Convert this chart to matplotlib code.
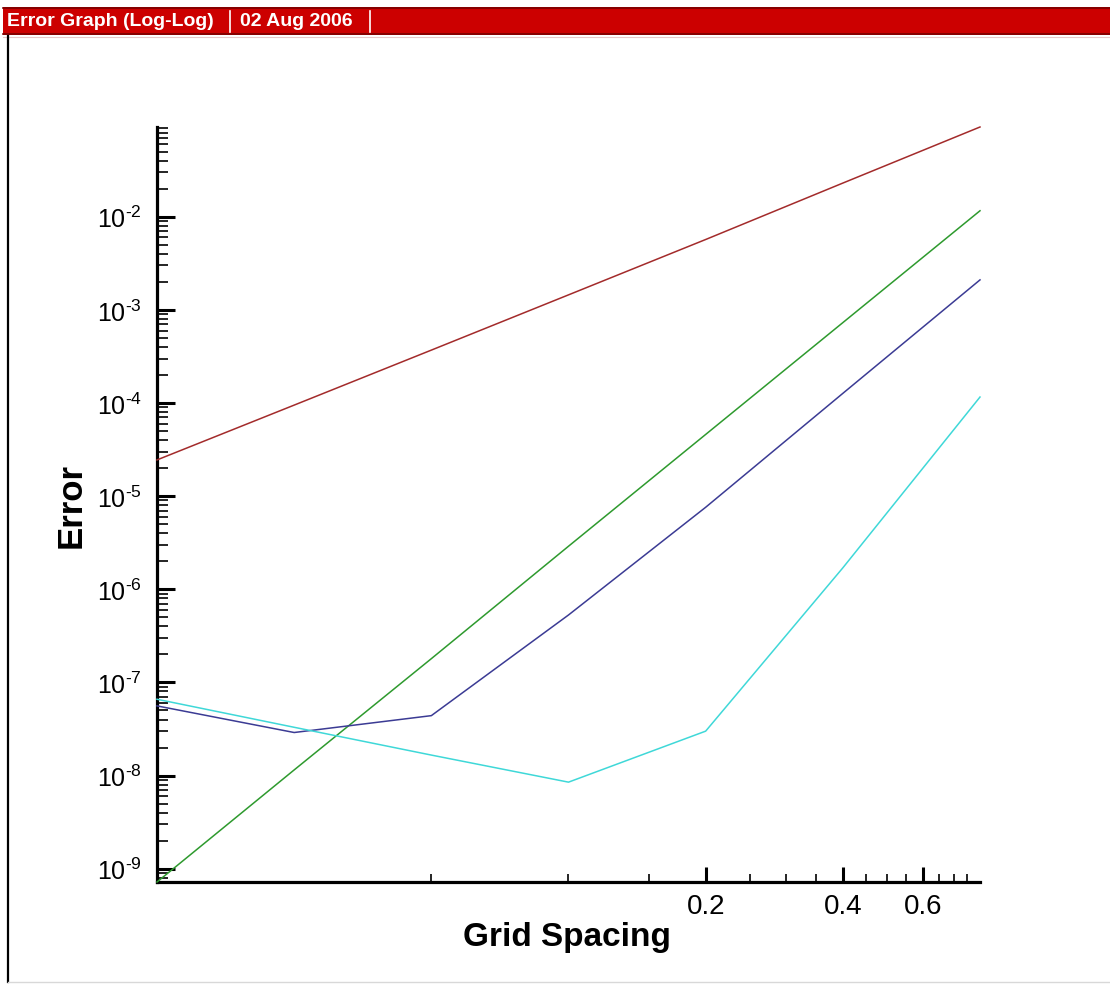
import matplotlib
matplotlib.use("Agg")
import matplotlib.pyplot as plt
from matplotlib.patches import Rectangle
from matplotlib.lines import Line2D
from matplotlib.ticker import FixedLocator, NullFormatter, LogLocator, FuncFormatter
import math

plt.rcParams['font.family'] = ['Liberation Sans', 'DejaVu Sans']
plt.rcParams['mathtext.fontset'] = 'custom'
plt.rcParams['mathtext.rm'] = 'Liberation Sans'
plt.rcParams['mathtext.it'] = 'Liberation Sans'
plt.rcParams['mathtext.bf'] = 'Liberation Sans:bold'

# Grid spacings of the refinement study
grid_spacing = [0.0125, 0.025, 0.05, 0.1, 0.2, 0.4, 0.8]

# Error for each scheme
error_red = [2.45e-5, 9.5e-5, 3.7e-4, 1.45e-3, 5.7e-3, 2.3e-2, 9.2e-2]
error_green = [7.2e-10, 1.15e-8, 1.8e-7, 2.9e-6, 4.6e-5, 7.3e-4, 1.16e-2]
error_blue = [5.6e-8, 2.9e-8, 4.4e-8, 5.3e-7, 7.6e-6, 1.27e-4, 2.1e-3]
error_cyan = [6.6e-8, 3.3e-8, 1.66e-8, 8.5e-9, 3.0e-8, 1.7e-6, 1.16e-4]

series_colors = ['#A32B2B', '#2E9A2E', '#3B3B94', '#3FD8D8']

x_major_ticks = [0.2, 0.4, 0.6]
x_major_labels = ['0.2', '0.4', '0.6']
x_minor_ticks = [0.05, 0.1, 0.15, 0.25, 0.3, 0.35, 0.45, 0.5, 0.55, 0.65, 0.7, 0.75]
y_major_ticks = [1e-9, 1e-8, 1e-7, 1e-6, 1e-5, 1e-4, 1e-3, 1e-2]

header_title = 'Error Graph (Log-Log)'
header_date = '02 Aug 2006'

W, H = 1110, 987
fig = plt.figure(figsize=(W / 100, H / 100), dpi=100)
fig.patch.set_facecolor('white')


def fx(px):
    return px / W


def fy(py):
    return 1 - py / H


# Header bar
fig.patches.append(Rectangle((fx(3), fy(36)), fx(W) - fx(3), fy(8) - fy(36),
                             transform=fig.transFigure, facecolor='#CC0000',
                             edgecolor='none', zorder=1))
fig.lines.append(Line2D([fx(3), 1], [fy(9), fy(9)], transform=fig.transFigure,
                        color='#7A0000', lw=1.2))
fig.lines.append(Line2D([fx(3), 1], [fy(35), fy(35)], transform=fig.transFigure,
                        color='#7A0000', lw=1.2))
fig.lines.append(Line2D([fx(3), 1], [fy(37.5), fy(37.5)], transform=fig.transFigure,
                        color='#E8C8C8', lw=0.8))
fig.text(fx(7), fy(22), header_title, color='white', fontsize=14, fontweight='bold',
         ha='left', va='center')
fig.text(fx(240), fy(22), header_date, color='white', fontsize=14, fontweight='bold',
         ha='left', va='center')
for sx in (230, 370):
    fig.lines.append(Line2D([fx(sx), fx(sx)], [fy(12), fy(33)], transform=fig.transFigure,
                            color='white', lw=1.2))

# Frame border
fig.lines.append(Line2D([fx(8), fx(8)], [fy(37), fy(983)], transform=fig.transFigure,
                        color='black', lw=1.6))
fig.lines.append(Line2D([fx(8), 1], [fy(983), fy(983)], transform=fig.transFigure,
                        color='#D8D8D8', lw=1.0))

# Plot area
ax_l, ax_r, ax_t, ax_b = 157, 980, 128, 883
ax = fig.add_axes([fx(ax_l), fy(ax_b), fx(ax_r) - fx(ax_l), fy(ax_t) - fy(ax_b)])
ax.set_facecolor('white')

for ys, col in zip([error_red, error_green, error_blue, error_cyan], series_colors):
    ax.plot(grid_spacing, ys, color=col, lw=1.1, clip_on=False, zorder=3)

ax.set_xscale('log')
ax.set_yscale('log')
all_err = error_red + error_green + error_blue + error_cyan
ax.set_xlim(min(grid_spacing), max(grid_spacing))
ax.set_ylim(min(all_err), max(all_err))

for side in ('top', 'right'):
    ax.spines[side].set_visible(False)
for side in ('left', 'bottom'):
    ax.spines[side].set_linewidth(2.3)
    ax.spines[side].set_color('black')

# X axis ticks
ax.xaxis.set_major_locator(FixedLocator(x_major_ticks))
ax.xaxis.set_minor_locator(FixedLocator(x_minor_ticks))
ax.set_xticklabels(x_major_labels)
ax.xaxis.set_minor_formatter(NullFormatter())
ax.tick_params(axis='x', which='major', direction='in', length=11, width=2.2,
               labelsize=20, pad=8)
ax.tick_params(axis='x', which='minor', direction='in', length=6, width=1.2)


def decade_label(v, pos):
    e = int(round(math.log10(v)))
    sign = '\u2010' if e < 0 else ''
    return r'$\mathdefault{10^{%s%d}}$' % (sign, abs(e))


# Y axis ticks
ax.yaxis.set_major_locator(FixedLocator(y_major_ticks))
ax.yaxis.set_minor_locator(LogLocator(base=10, subs=[2, 3, 4, 5, 6, 7, 8, 9], numticks=20))
ax.yaxis.set_major_formatter(FuncFormatter(decade_label))
ax.yaxis.set_minor_formatter(NullFormatter())
ax.tick_params(axis='y', which='major', direction='in', length=13, width=2.2,
               labelsize=18, pad=11)
ax.tick_params(axis='y', which='minor', direction='in', length=8, width=1.2)

# Axis titles
fig.text(fx(567), fy(938), 'Grid Spacing', fontsize=24, fontweight='bold',
         ha='center', va='center')
fig.text(fx(71), fy(505), 'Error', fontsize=25, fontweight='bold', rotation=90,
         ha='center', va='center')

fig.savefig('out.png', dpi=100, facecolor='white')
